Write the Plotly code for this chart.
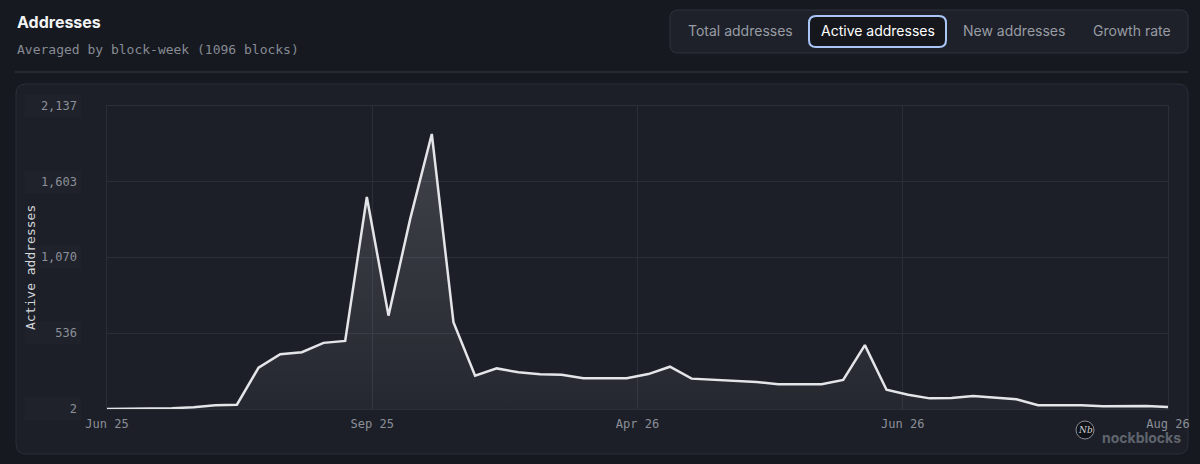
import plotly.graph_objects as go

# weekly averages of active addresses (50 block-weeks)
active = [2, 3, 4, 8, 14, 28, 32, 293, 388, 402,
          468, 482, 1496, 660, 1340, 1940, 614, 236, 288, 261,
          247, 244, 219, 219, 219, 248, 300, 216, 207, 197,
          193, 176, 176, 176, 207, 452, 138, 103, 77, 79,
          94, 82, 70, 28, 28, 28, 21, 21, 23, 16]
weeks = list(range(len(active)))

x_labels = ['Jun 25', 'Sep 25', 'Apr 26', 'Jun 26', 'Aug 26']
y_ticks = [2, 536, 1070, 1603, 2137]
tabs = ['Total addresses', 'Active addresses', 'New addresses', 'Growth rate']
tab_centers = [740, 878, 1014, 1132]

W, H = 1200, 464
BG = '#16191f'
CARD = '#1c1f27'
EDGE = '#2b2f38'
GRID = '#2a2e37'


def px(x):
    return x / W


def py(y):
    return 1 - y / H


def rounded(x0, y0, x1, y1, r):
    # rounded rectangle path in paper coords from pixel box
    rx, ry = r / W, r / H
    a, b, c, d = px(x0), py(y0), px(x1), py(y1)
    return (f'M {a + rx},{b} L {c - rx},{b} Q {c},{b} {c},{b - ry} '
            f'L {c},{d + ry} Q {c},{d} {c - rx},{d} L {a + rx},{d} '
            f'Q {a},{d} {a},{d + ry} L {a},{b - ry} Q {a},{b} {a + rx},{b} Z')


def label(text, x, y, size, color, family='Inter', **kw):
    d = dict(text=text, xref='paper', yref='paper', x=px(x), y=py(y), showarrow=False,
             xanchor='left', yanchor='middle', font=dict(family=family, size=size, color=color))
    d.update(kw)
    return d


fig = go.Figure()
fig.add_trace(go.Scatter(
    x=weeks, y=active, mode='lines', fill='tozeroy',
    line=dict(color='#e4e5e9', width=2.5),
    fillgradient=dict(type='vertical',
                      colorscale=[[0, 'rgba(255,255,255,0.04)'], [1, 'rgba(255,255,255,0.16)']]),
    hoverinfo='skip', showlegend=False,
))

n = len(weeks) - 1
tickvals = [n * i / (len(x_labels) - 1) for i in range(len(x_labels))]

shapes = [
    dict(type='path', xref='paper', yref='paper', path=rounded(16, 84, 1188, 454, 10),
         fillcolor=CARD, line=dict(color=EDGE, width=1), layer='below'),
    dict(type='line', xref='paper', yref='paper', x0=px(15), x1=px(1188), y0=py(72), y1=py(72),
         line=dict(color='#2c3039', width=1.5)),
    dict(type='path', xref='paper', yref='paper', path=rounded(670, 10, 1188, 53, 8),
         fillcolor='#1e2129', line=dict(color='#2f333c', width=1)),
    dict(type='path', xref='paper', yref='paper', path=rounded(809, 16, 946, 47, 7),
         fillcolor='#15171d', line=dict(color='#a9c6f7', width=2)),
    dict(type='circle', xref='paper', yref='paper', x0=px(1076), x1=px(1094), y0=py(421), y1=py(439),
         fillcolor='#101217', line=dict(color='#8a8e96', width=1)),
]

annotations = []
for v in y_ticks:
    annotations.append(dict(
        text=f'{v:,}', xref='paper', yref='y', x=px(82), y=v, xanchor='right', yanchor='middle',
        showarrow=False, width=48, align='right', borderpad=4, bgcolor='#1f222a',
        font=dict(family='DejaVu Sans Mono', size=12, color='#8b9099')))
annotations += [
    label('<b>Addresses</b>', 15, 22, 16, '#f2f3f5'),
    label('Averaged by block-week (1096 blocks)', 15, 49, 13, '#868b94', family='DejaVu Sans Mono'),
    label('Active addresses', 30, 268, 13, '#d3d6dc', family='DejaVu Sans Mono',
          textangle=-90, xanchor='center'),
    label('<i>Nb</i>', 1085, 430, 9, '#d0d2d6', family='DejaVu Serif', xanchor='center'),
    label('<b>nockblocks</b>', 1100, 437, 14, '#5f646d'),
]
for name, cx in zip(tabs, tab_centers):
    annotations.append(label(name, cx, 31, 14, '#ffffff' if name == 'Active addresses' else '#989ca4',
                             xanchor='center'))

fig.update_layout(
    width=W, height=H, autosize=False,
    margin=dict(l=0, r=0, t=0, b=0, autoexpand=False),
    paper_bgcolor=BG, plot_bgcolor='rgba(0,0,0,0)',
    shapes=shapes, annotations=annotations,
    xaxis=dict(domain=[px(107), px(1168)], range=[0, n], tickvals=tickvals, ticktext=x_labels,
               showgrid=True, gridcolor=GRID, zeroline=False, showline=True, mirror=True,
               automargin=False, linecolor=GRID, ticks='', ticklabelstandoff=4,
               tickfont=dict(family='DejaVu Sans Mono', size=12, color='#8b9099')),
    yaxis=dict(domain=[py(409), py(106)], range=[y_ticks[0], y_ticks[-1]], tickvals=y_ticks,
               showticklabels=False, showgrid=True, gridcolor=GRID, zeroline=False,
               automargin=False, showline=True, mirror=True, linecolor=GRID, ticks=''),
)

fig.write_html('out.html', config={'displayModeBar': False},
               post_script="document.body.style.margin='0';"
                           "document.body.style.background='#16191f';")
